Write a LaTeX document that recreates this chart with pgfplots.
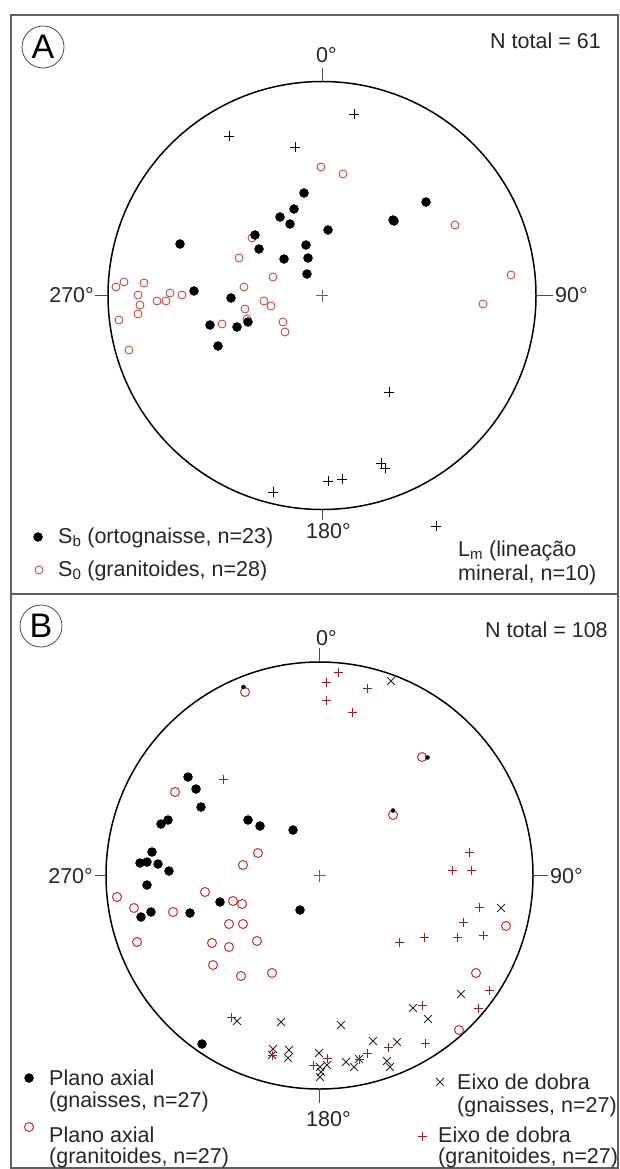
\documentclass[border=0pt]{standalone}
\usepackage{fontspec}
\setmainfont{Liberation Sans}
\usepackage{pgfplots}
\pgfplotsset{compat=1.18}
\definecolor{redA}{HTML}{C84848}
\definecolor{redB}{HTML}{D02A2A}
\definecolor{redP}{HTML}{A01C1C}
\definecolor{frameC}{HTML}{606060}
\begin{document}
\begin{tikzpicture}
\begin{axis}[width=619bp, height=1169bp, scale only axis,
  xmin=0, xmax=619, ymin=0, ymax=1169, y dir=reverse,
  hide axis, clip=false]
\path (0,0) rectangle (619,1169);
\tikzset{lab/.style={font=\fontsize{21.5bp}{26bp}\selectfont, text=black!85, inner sep=0pt}}
% panel frames
\draw[frameC, line width=1.3bp] (11,15) rectangle (618,594);
\draw[frameC, line width=1.3bp] (11,594) rectangle (618,1168);
% panel letters
\draw[black!70, line width=0.8bp] (43,47) circle[radius=21bp];
\node[font=\fontsize{34bp}{40bp}\selectfont, inner sep=0pt] at (43,47) {A};
\draw[black!70, line width=0.8bp] (41,626) circle[radius=21bp];
\node[font=\fontsize{34bp}{40bp}\selectfont, inner sep=0pt] at (41,626) {B};
% nets
\draw[black, line width=1.5bp] (322,295.5) circle[radius=214bp];
\draw[black!70, line width=0.8bp] (322,81.5)--(322,68) (322,509.5)--(322,520) (108,295.5)--(95,295.5) (536,295.5)--(553,295.5);
\draw[black, line width=1.5bp] (319.5,875.5) circle[radius=213.5bp];
\draw[black!70, line width=0.8bp] (319.5,662)--(319.5,648) (319.5,1089)--(319.5,1103) (106,875.5)--(95,875.5) (533,875.5)--(548,875.5);
% centre marks
\addplot[only marks, mark=+, mark size=6bp, black!60, mark options={line width=0.6bp}] coordinates {(322,295.5) (319.5,875.5)};
% direction labels
\node[lab, anchor=base west] at (316,62) {0°};
\node[lab, anchor=base west] at (306,538) {180°};
\node[lab, anchor=base east] at (94,302) {270°};
\node[lab, anchor=base west] at (555,302) {90°};
\node[lab, anchor=base west] at (316,645) {0°};
\node[lab, anchor=base west] at (306,1126) {180°};
\node[lab, anchor=base east] at (93,883) {270°};
\node[lab, anchor=base west] at (550,883) {90°};
\node[lab, anchor=base west] at (490,48) {N total = 61};
\node[lab, anchor=base west] at (485,637) {N total = 108};

% ===== Panel A =====
% Lm lineations
\addplot[only marks, mark=+, mark size=5bp, black, mark options={line width=0.9bp}] coordinates {
(229,136) (295,147) (354,114) (389,392) (381,463) (385,468) (328,481) (342,479) (273,492)
};
% S0 granitoides
\addplot[only marks, mark=o, mark size=4bp, redA, mark options={line width=0.9bp, fill=white}] coordinates {
(321,167) (343,174) (252,238) (239,258) (273,277) (244,287) (455,225) (511,275) (483,304)
(116,287) (124,282) (144,283) (138,295) (140,305) (138,314) (119,320) (129,350) (157,301)
(166,301) (170,293) (182,295) (264,301) (271,306) (245,309) (247,319) (222,324) (283,322) (285,332)
};
% Sb ortognaisse
\addplot[only marks, mark=*, mark size=4.5bp, black] coordinates {
(304,193) (294,209) (280,217) (290,224) (255,235) (259,249) (284,259) (306,245) (308,258) (307,274)
(180,244) (194,291) (426,202) (393,220) (394,221) (328,230) (231,298) (210,325) (237,327) (248,322) (218,346)
};
% legend A
\addplot[only marks, mark=*, mark size=4.5bp, black] coordinates {(38,537)};
\addplot[only marks, mark=o, mark size=4bp, redA, mark options={line width=0.9bp}] coordinates {(39,570)};
\addplot[only marks, mark=+, mark size=5bp, black, mark options={line width=0.9bp}] coordinates {(436,526)};
\node[lab, anchor=base west] at (58,543) {S\textsubscript{b} (ortognaisse, n=23)};
\node[lab, anchor=base west] at (58,576) {S\textsubscript{0} (granitoides, n=28)};
\node[lab, anchor=base west] at (458,556) {L\textsubscript{m} (lineação};
\node[lab, anchor=base west] at (458,580) {mineral, n=10)};

% ===== Panel B =====
% plano axial gnaisses (black dots)
\addplot[only marks, mark=*, mark size=4.5bp, black] coordinates {
(188,777) (196,789) (201,807) (161,824) (168,820) (248,820) (260,826) (293,830)
(152,852) (140,863) (147,862) (158,864) (169,871) (147,885) (141,917) (151,912)
(190,913) (220,902) (300,910) (202,1044)
};
% plano axial granitoides (red circles)
\addplot[only marks, mark=o, mark size=4.5bp, redB, mark options={line width=1bp, fill=white}] coordinates {
(245,692) (422,757) (393,815) (175,792) (258,853) (243,865) (117,897) (134,908) (137,942)
(173,912) (205,892) (233,901) (242,904) (229,924) (243,924) (212,943) (229,947) (257,941)
(213,965) (241,976) (272,973) (506,926) (476,973) (459,1030)
};
% gnaisses planes hidden under granitoid circles (small visible parts)
\addplot[only marks, mark=*, mark size=2bp, black] coordinates {
(243.5,687) (427.5,757.5) (393,810.5)
};
% eixo de dobra gnaisses (x)
\addplot[only marks, mark=x, mark size=5.5bp, black!85, mark options={line width=0.9bp}] coordinates {
(391,681) (501,908) (461,994) (413,1008) (428,1019) (341,1025) (281,1022) (237,1021)
(373,1041) (397,1042) (273,1049) (289,1050) (288,1058) (272,1055) (319,1053) (320,1067)
(321,1072) (320,1077) (327,1065) (346,1062) (354,1067) (359,1059) (387,1061) (390,1067)
};
% eixo de dobra granitoides (+)
\addplot[only marks, mark=+, mark size=4.5bp, redP, mark options={line width=0.9bp}] coordinates {
(338,672) (326,682) (326,700) (367,688) (352,712) (223,779) (469,852) (452,870) (471,870)
(479,907) (463,922) (483,935) (457,937) (424,937) (399,942) (489,990) (478,1008) (422,1005)
(425,1043) (388,1047) (367,1053) (359,1059) (327,1058) (313,1065) (272,1055) (231,1017)
};
% legend B
\addplot[only marks, mark=*, mark size=4.5bp, black] coordinates {(29,1078)};
\addplot[only marks, mark=o, mark size=4.5bp, redB, mark options={line width=1bp}] coordinates {(29,1127)};
\addplot[only marks, mark=x, mark size=5.5bp, black!85, mark options={line width=0.9bp}] coordinates {(440,1082)};
\addplot[only marks, mark=+, mark size=4.5bp, redP, mark options={line width=0.9bp}] coordinates {(422,1136)};
\node[lab, anchor=base west] at (49,1085) {Plano axial};
\node[lab, anchor=base west] at (49,1107) {(gnaisses, n=27)};
\node[lab, anchor=base west] at (49,1142) {Plano axial};
\node[lab, anchor=base west] at (49,1163) {(granitoides, n=27)};
\node[lab, anchor=base west] at (457,1089) {Eixo de dobra};
\node[lab, anchor=base west] at (457,1112) {(gnaisses, n=27)};
\node[lab, anchor=base west] at (438,1142) {Eixo de dobra};
\node[lab, anchor=base west] at (438,1163) {(granitoides, n=27)};
\end{axis}
\end{tikzpicture}
\end{document}
